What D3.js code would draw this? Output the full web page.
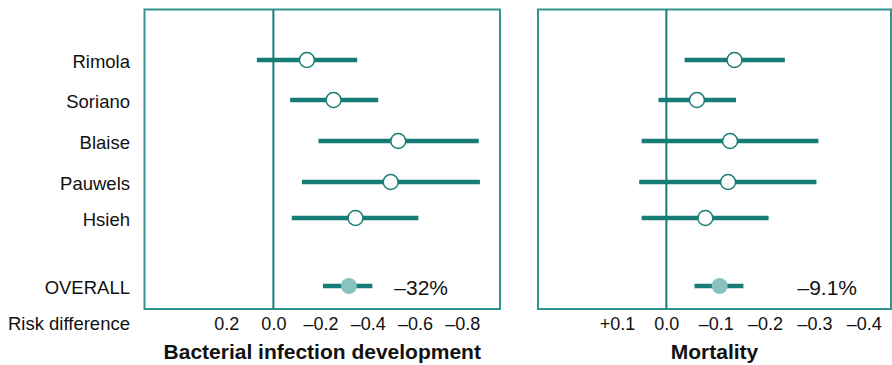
<!DOCTYPE html>
<html><head><meta charset="utf-8">
<script src="https://cdn.jsdelivr.net/npm/d3@7"></script>
<style>
html,body{margin:0;padding:0;background:#fff;}
text{font-family:"Liberation Sans",Arial,Helvetica,sans-serif;fill:#111;}
</style></head>
<body>
<svg id="chart" width="892" height="365"></svg>
<script>
const studies = ["Rimola","Soriano","Blaise","Pauwels","Hsieh","OVERALL"];
const infEst = [-0.142,-0.255,-0.529,-0.497,-0.348,-0.32];
const infLo  = [0.07,-0.071,-0.191,-0.121,-0.078,-0.21];
const infHi  = [-0.355,-0.444,-0.87,-0.875,-0.614,-0.419];
const mortEst = [-0.138,-0.062,-0.129,-0.125,-0.079,-0.108];
const mortLo  = [-0.037,0.016,0.05,0.055,0.05,-0.057];
const mortHi  = [-0.24,-0.141,-0.308,-0.304,-0.207,-0.156];
const infTicks = [0.2,0,-0.2,-0.4,-0.6,-0.8];
const infTickLabels = ["0.2","0.0","–0.2","–0.4","–0.6","–0.8"];
const mortTicks = [0.1,0,-0.1,-0.2,-0.3,-0.4];
const mortTickLabels = ["+0.1","0.0","–0.1","–0.2","–0.3","–0.4"];
const overallLabels = ["–32%","–9.1%"];
const panelTitles = ["Bacterial infection development","Mortality"];
const axisLabel = "Risk difference";

(function(){
const svg = d3.select("#chart");
const dark = "#177b76", frame = "#33938e", light = "#88c3be";
const plotTop = 9.5, plotBottom = 309;

const y = d3.scaleOrdinal().domain(studies).range([60,100,141,182,218,286]);

const panels = [
  {est: infEst, lo: infLo, hi: infHi, ticks: infTicks, labels: infTickLabels,
   x: d3.scaleLinear().domain([0.546,-0.96]).range([144.5,500]), pct: overallLabels[0], title: panelTitles[0], pctOff: 52},
  {est: mortEst, lo: mortLo, hi: mortHi, ticks: mortTicks, labels: mortTickLabels,
   x: d3.scaleLinear().domain([0.26,-0.455]).range([538,891]), pct: overallLabels[1], title: panelTitles[1], pctOff: 34}
];

svg.append("g").selectAll("text").data(studies).join("text")
  .attr("x",130).attr("y",d=>y(d)+1).attr("text-anchor","end")
  .attr("dominant-baseline","central").style("font-size","18.5px").text(d=>d);
svg.append("text").attr("x",130).attr("y",330).attr("text-anchor","end")
  .style("font-size","18.5px").text(axisLabel);

panels.forEach(p=>{
  const [x0,x1] = p.x.range();
  const g = svg.append("g");
  g.append("rect").attr("x",x0).attr("y",plotTop).attr("width",x1-x0).attr("height",plotBottom-plotTop)
    .attr("fill","none").attr("stroke",frame).attr("stroke-width",2);
  g.append("line").attr("x1",p.x(0)).attr("x2",p.x(0)).attr("y1",plotTop).attr("y2",plotBottom)
    .attr("stroke",dark).attr("stroke-width",2);
  g.selectAll("line.ci").data(studies).join("line").attr("class","ci")
    .attr("x1",(d,i)=>p.x(p.lo[i])).attr("x2",(d,i)=>p.x(p.hi[i]))
    .attr("y1",d=>y(d)).attr("y2",d=>y(d))
    .attr("stroke",dark).attr("stroke-width",4.5);
  g.selectAll("circle").data(studies).join("circle")
    .attr("cx",(d,i)=>p.x(p.est[i])).attr("cy",d=>y(d))
    .attr("r",(d,i)=> i===studies.length-1 ? 8 : 7.5)
    .attr("fill",(d,i)=> i===studies.length-1 ? light : "#fff")
    .attr("stroke",(d,i)=> i===studies.length-1 ? "none" : dark)
    .attr("stroke-width",1.5);
  g.append("text").attr("x",x1-p.pctOff).attr("y",y("OVERALL")+1)
    .attr("text-anchor","end").attr("dominant-baseline","central")
    .style("font-size","21px").text(p.pct);
  const ax = g.append("g").attr("transform",`translate(0,${plotBottom})`)
    .call(d3.axisBottom(p.x).tickValues(p.ticks).tickSize(0).tickPadding(0)
      .tickFormat((d,i)=>p.labels[i]));
  ax.select(".domain").remove();
  ax.selectAll("text").attr("y",21).attr("dy",0)
    .style("font-size","18px").style("font-family",'"Liberation Sans",Arial,sans-serif').attr("fill","#111");
  g.append("text").attr("x",(x0+x1)/2).attr("y",359).attr("text-anchor","middle")
    .style("font-size","21px").style("font-weight","bold").text(p.title);
});
})();
</script>
</body></html>
